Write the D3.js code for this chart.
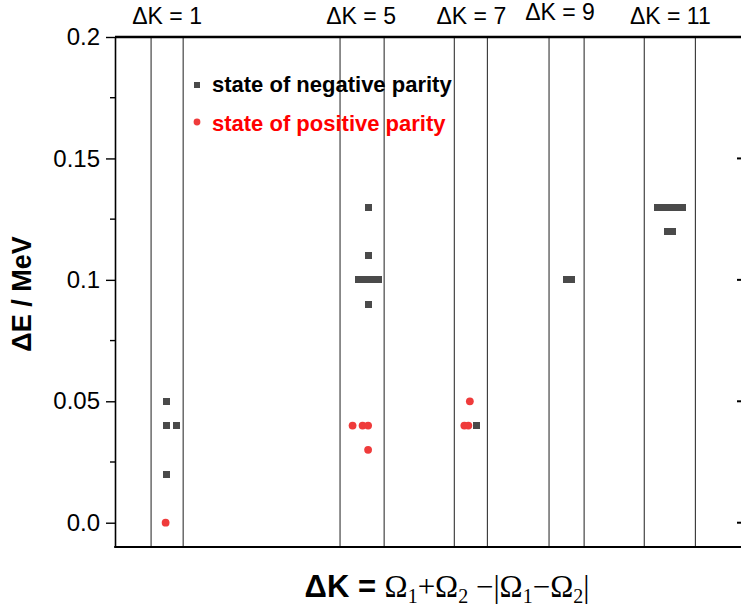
<!DOCTYPE html>
<html><head><meta charset="utf-8">
<script src="https://cdn.jsdelivr.net/npm/d3@7"></script>
<style>body{margin:0;background:#fff} svg{display:block}</style>
</head><body>
<script>
// ---- data ----
const bandLabels  = ["ΔK = 1", "ΔK = 5", "ΔK = 7", "ΔK = 9", "ΔK = 11"];
const bandCenters = [1.04, 4.91, 7.11, 8.88, 11.08];
const bandLeft    = [0.72, 4.49, 6.77, 8.66, 10.56];
const bandRight   = [1.36, 5.37, 7.43, 9.36, 11.58];

// states of negative parity (ΔK position, ΔE in MeV)
const negX = [1.02, 1.02, 1.22, 1.02,
              5.06, 5.06, 4.86, 4.96, 5.06, 5.16, 5.26, 5.06,
              7.21,
              9.00, 9.11,
              10.83, 10.93, 11.03, 11.13, 11.23, 11.32, 11.02, 11.13];
const negY = [0.05, 0.04, 0.04, 0.02,
              0.13, 0.11, 0.10, 0.10, 0.10, 0.10, 0.10, 0.09,
              0.04,
              0.10, 0.10,
              0.13, 0.13, 0.13, 0.13, 0.13, 0.13, 0.12, 0.12];
// states of positive parity
const posX = [1.01, 4.74, 4.94, 5.05, 5.05, 7.08, 6.97, 7.05];
const posY = [0.00, 0.04, 0.04, 0.04, 0.03, 0.05, 0.04, 0.04];

const yTicks      = [0, 0.05, 0.1, 0.15, 0.2];
const yTickLabels = ["0.0", "0.05", "0.1", "0.15", "0.2"];
const yMinorTicks = [0.025, 0.075, 0.125, 0.175];
const legendLabels = ["state of negative parity", "state of positive parity"];

// ---- layout ----
const W = 741, H = 611;
const L = 115, R = 741.5, T = 37, B = 547;
const negColor = "#4a4a4a", posColor = "#ef3b3b";
const sans = "Arial, 'Liberation Sans', Helvetica, sans-serif";
const serif = "'Times New Roman', 'Liberation Serif', serif";

const svg = d3.select("body").append("svg").attr("width", W).attr("height", H)
  .style("background", "#fff");

const x = d3.scaleLinear().domain([0, 12.5]).range([L, R]);
const y = d3.scaleLinear().domain([-0.01, 0.2]).range([B, T]);

// band boundary lines
const bandLines = bandLeft.concat(bandRight);
svg.append("g").selectAll("line").data(bandLines).join("line")
  .attr("x1", d => x(d)).attr("x2", d => x(d))
  .attr("y1", T).attr("y2", B)
  .attr("stroke", "#333").attr("stroke-width", 1.1);

// left axis
const yAxis = d3.axisLeft(y).tickValues(yTicks)
  .tickFormat((d, i) => yTickLabels[i]).tickSize(9).tickSizeOuter(0).tickPadding(6);
const gy = svg.append("g").attr("transform", `translate(${L},0)`).call(yAxis);
gy.select(".domain").attr("stroke", "#000").attr("stroke-width", 1.6);
gy.selectAll(".tick line").attr("stroke", "#000").attr("stroke-width", 1.4);
gy.selectAll(".tick text").attr("font-family", sans).attr("font-size", 24).attr("fill", "#000");
svg.append("g").selectAll("line").data(yMinorTicks).join("line")
  .attr("x1", L - 5).attr("x2", L).attr("y1", d => y(d)).attr("y2", d => y(d))
  .attr("stroke", "#000").attr("stroke-width", 1.4);

// right side ticks
svg.append("g").selectAll("line").data(yTicks.slice(0, 4)).join("line")
  .attr("x1", W - 4).attr("x2", W).attr("y1", d => y(d)).attr("y2", d => y(d))
  .attr("stroke", "#000").attr("stroke-width", 2);

// top and bottom frame lines
svg.append("line").attr("x1", L).attr("x2", W).attr("y1", T).attr("y2", T)
  .attr("stroke", "#000").attr("stroke-width", 2.6);
svg.append("line").attr("x1", L - 0.8).attr("x2", W).attr("y1", B).attr("y2", B)
  .attr("stroke", "#000").attr("stroke-width", 2);

// band labels
svg.append("g").selectAll("text").data(bandLabels).join("text")
  .attr("x", (d, i) => x(bandCenters[i]))
  .attr("y", (d, i) => i === 3 ? 20 : 24)
  .attr("text-anchor", "middle")
  .attr("font-family", sans).attr("font-size", 23).attr("fill", "#000")
  .text(d => d);

// data points: squares first, circles on top
const sq = 7;
svg.append("g").attr("shape-rendering", "crispEdges")
  .selectAll("rect").data(negX.map((d, i) => [d, negY[i]])).join("rect")
  .attr("x", d => x(d[0]) - sq / 2).attr("y", d => y(d[1]) - sq / 2)
  .attr("width", sq).attr("height", sq).attr("fill", negColor);
svg.append("g").selectAll("circle").data(posX.map((d, i) => [d, posY[i]])).join("circle")
  .attr("cx", d => x(d[0])).attr("cy", d => y(d[1])).attr("r", 3.9)
  .attr("fill", posColor);

// legend
const lg = svg.append("g");
lg.append("rect").attr("x", 194).attr("y", 82).attr("width", 6).attr("height", 6)
  .attr("fill", negColor).attr("shape-rendering", "crispEdges");
lg.append("circle").attr("cx", 197).attr("cy", 122).attr("r", 3.4).attr("fill", posColor);
lg.append("text").attr("x", 212).attr("y", 92).attr("font-family", sans).attr("font-weight", "bold")
  .attr("font-size", 22).attr("fill", "#000").text(legendLabels[0]);
lg.append("text").attr("x", 212).attr("y", 131).attr("font-family", sans).attr("font-weight", "bold")
  .attr("font-size", 22).attr("fill", "#ff0000").text(legendLabels[1]);

// y title
svg.append("text")
  .attr("transform", "translate(31,294) rotate(-90)")
  .attr("text-anchor", "middle")
  .attr("font-family", sans).attr("font-weight", "bold").attr("font-size", 27)
  .text("ΔE / MeV");

// x title
const xt = svg.append("text").attr("x", 447).attr("y", 597).attr("text-anchor", "middle")
  .attr("font-size", 31);
xt.append("tspan").attr("font-family", sans).attr("font-weight", "bold").text("ΔK = ");
const parts = [["Ω", false], ["1", true], ["+Ω", false], ["2", true], [" −|Ω", false], ["1", true],
               ["−Ω", false], ["2", true], ["|", false]];
parts.forEach(([t, sub], i) => {
  const ts = xt.append("tspan").attr("font-family", serif).text(t);
  if (sub) ts.attr("font-size", 20).attr("dy", 6);
  else if (i > 0) ts.attr("dy", -6);
});
</script>
</body></html>
